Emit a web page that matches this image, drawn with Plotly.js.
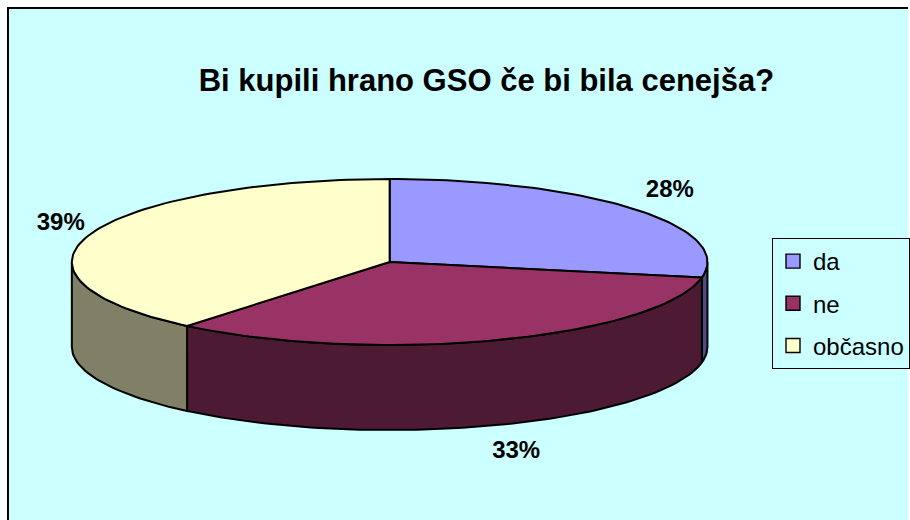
<!DOCTYPE html>
<html>
<head>
<meta charset="utf-8">
<script src="https://cdn.plot.ly/plotly-3.0.1.min.js"></script>
<style>html,body{margin:0;padding:0;background:#fff;}#chart{width:910px;height:520px;}</style>
</head>
<body>
<div id="chart"></div>
<script>
// ---- data ----
var categories = ['da', 'ne', 'občasno'];
var values = [28, 33, 39];
var topColors = ['#9999FF', '#993366', '#FFFFCC'];
var sideColors = ['#4D4D80', '#4D1A33', '#808066'];
var titleText = 'Bi kupili hrano GSO če bi bila cenejša?';

// ---- geometry (pixel space) ----
var W = 910, H = 520;
var cx = 390.5, cy = 262, rx = 318.5, ry = 83, depth = 85;
var FONT = 'Liberation Sans, Arial, sans-serif';

function pt(tDeg, dy) {
  var t = tDeg * Math.PI / 180;
  return [cx + rx * Math.sin(t), cy - ry * Math.cos(t) + (dy || 0)];
}
function arc(a0, a1, dy) {
  var n = Math.max(2, Math.ceil((a1 - a0) / 1.5));
  var xs = [], ys = [];
  for (var i = 0; i <= n; i++) {
    var p = pt(a0 + (a1 - a0) * i / n, dy);
    xs.push(p[0]); ys.push(p[1]);
  }
  return [xs, ys];
}

var total = values.reduce(function (a, b) { return a + b; }, 0);
var starts = [], ends = [];
var acc = 0;
values.forEach(function (v) {
  starts.push(acc / total * 360);
  acc += v;
  ends.push(acc / total * 360);
});

var traces = [];
// sides (front half only: 90..270 deg clockwise from top)
values.forEach(function (v, i) {
  var s0 = Math.max(starts[i], 90), s1 = Math.min(ends[i], 270);
  if (s1 <= s0) return;
  var top = arc(s0, s1, 0), bot = arc(s0, s1, depth);
  var xs = top[0].concat(bot[0].slice().reverse());
  var ys = top[1].concat(bot[1].slice().reverse());
  xs.push(xs[0]); ys.push(ys[0]);
  traces.push({
    type: 'scatter', mode: 'lines', x: xs, y: ys, fill: 'toself',
    fillcolor: sideColors[i], line: { color: '#000', width: 2 },
    hoverinfo: 'skip', showlegend: false
  });
});
// top faces
values.forEach(function (v, i) {
  var a = arc(starts[i], ends[i], 0);
  var xs = [cx].concat(a[0]).concat([cx]);
  var ys = [cy].concat(a[1]).concat([cy]);
  traces.push({
    type: 'scatter', mode: 'lines', x: xs, y: ys, fill: 'toself',
    fillcolor: topColors[i], line: { color: '#000', width: 2 },
    hoverinfo: 'skip', showlegend: false
  });
});
// percentage labels
var lx = [], ly = [], lt = [];
values.forEach(function (v, i) {
  var mid = (starts[i] + ends[i]) / 2 * Math.PI / 180;
  var s = Math.sin(mid), c = Math.cos(mid);
  var y = cy - c * ry * 1.34 + (c < 0 ? depth : 0);
  lx.push(cx + s * rx * 1.12 + 6);
  ly.push(y);
  lt.push('<b>' + Math.round(v / total * 100) + '%</b>');
});
traces.push({
  type: 'scatter', mode: 'text', x: lx, y: ly, text: lt,
  textposition: 'middle center',
  textfont: { family: FONT, size: 24, color: '#000' },
  hoverinfo: 'skip', showlegend: false
});
// legend entries
categories.forEach(function (name, i) {
  traces.push({
    type: 'scatter', mode: 'markers', x: [null], y: [null], name: name,
    legendgroup: 'g' + i,
    marker: { symbol: 'square', size: 14, color: topColors[i], line: { color: '#000', width: 1.4 } },
    hoverinfo: 'skip'
  });
});

var layout = {
  width: W, height: H,
  margin: { l: 0, r: 0, t: 0, b: 0 },
  paper_bgcolor: '#FFFFFF', plot_bgcolor: 'rgba(0,0,0,0)',
  xaxis: { range: [0, W], visible: false, fixedrange: true },
  yaxis: { range: [H, 0], visible: false, fixedrange: true },
  title: {
    text: '<b>' + titleText + '</b>',
    font: { family: FONT, size: 31, color: '#000' },
    xref: 'paper', yref: 'paper', x: 487.5 / W, xanchor: 'center',
    y: 1 - 80 / H, yanchor: 'middle'
  },
  showlegend: true,
  legend: {
    x: 774 / W, xanchor: 'left', y: 1 - 238 / H, yanchor: 'top',
    bgcolor: '#CCFFFF', bordercolor: '#000', borderwidth: 1,
    font: { family: FONT, size: 24, color: '#000' },
    tracegroupgap: 8, traceorder: 'grouped'
  },
  shapes: [{
    type: 'rect', xref: 'x', yref: 'y', x0: 8, y0: 8, x1: W + 10, y1: H + 10,
    fillcolor: '#CCFFFF', line: { color: '#000', width: 2 }, layer: 'below'
  }]
};

Plotly.newPlot('chart', traces, layout, { displayModeBar: false, staticPlot: true });
</script>
</body>
</html>
